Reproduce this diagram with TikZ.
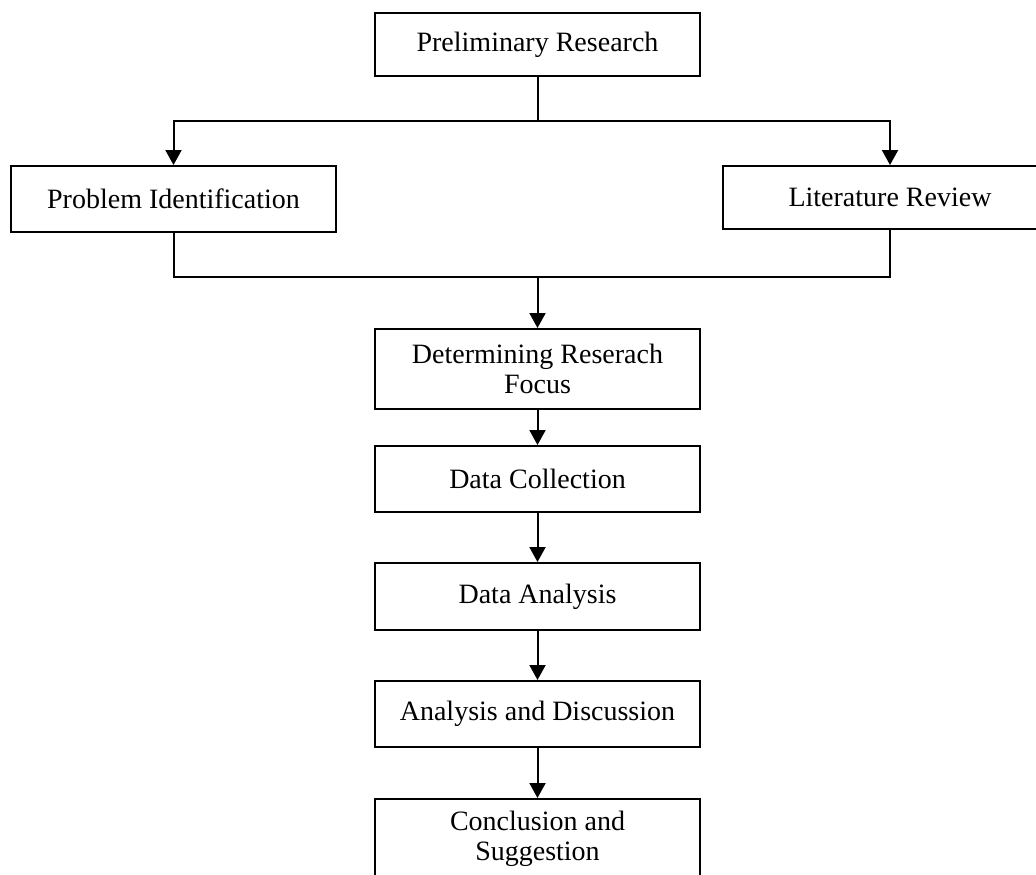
\documentclass[tikz,border=0pt]{standalone}
\usepackage{fontspec}
\setmainfont{Liberation Serif}
\usetikzlibrary{arrows.meta}

\begin{document}
\begin{tikzpicture}[x=1pt, y=-1pt,
    stage/.style={draw, line width=2pt, minimum width=325pt, minimum height=66pt,
      align=center, inner sep=0pt, font=\fontsize{28}{30}\selectfont},
    flow/.style={line width=2pt, -{Triangle[width=16pt,length=15pt]}}]
        \clip (0, 0) rectangle (1036, 875);
        \node[stage, minimum height=63pt] (prelim) at (537.5, 44.5) {Preliminary Research};
        \node[stage] (problem) at (173.5, 199) {Problem Identification};
        \node[stage, minimum width=334pt, minimum height=63pt] (literature) at (890, 197.5) {Literature Review};
        \node[stage, minimum height=80pt] (focus) at (537.5, 369) {Determining Reserach\\Focus};
        \node[stage] (collect) at (537.5, 479) {Data Collection};
        \node[stage, minimum height=67pt] (analysis) at (537.5, 596.5) {Data Analysis};
        \node[stage] (discuss) at (537.5, 714) {Analysis and Discussion};
        \node[stage, minimum height=80pt] (conclude) at (537.5, 839) {Conclusion and\\Suggestion};
        \coordinate (split) at (537.5, 121);
        \coordinate (merge) at (537.5, 277);
        \draw[line width=2pt] (prelim) -- (split);
        \draw[flow] (split) -| (problem);
        \draw[flow] (split) -| (literature);
        \draw[line width=2pt] (problem) |- (merge) -| (literature);
        \draw[flow] (merge) -- (focus);
        \foreach \a/\b in {focus/collect, collect/analysis, analysis/discuss, discuss/conclude}
          \draw[flow] (\a) -- (\b);
      \end{tikzpicture}
\end{document}
